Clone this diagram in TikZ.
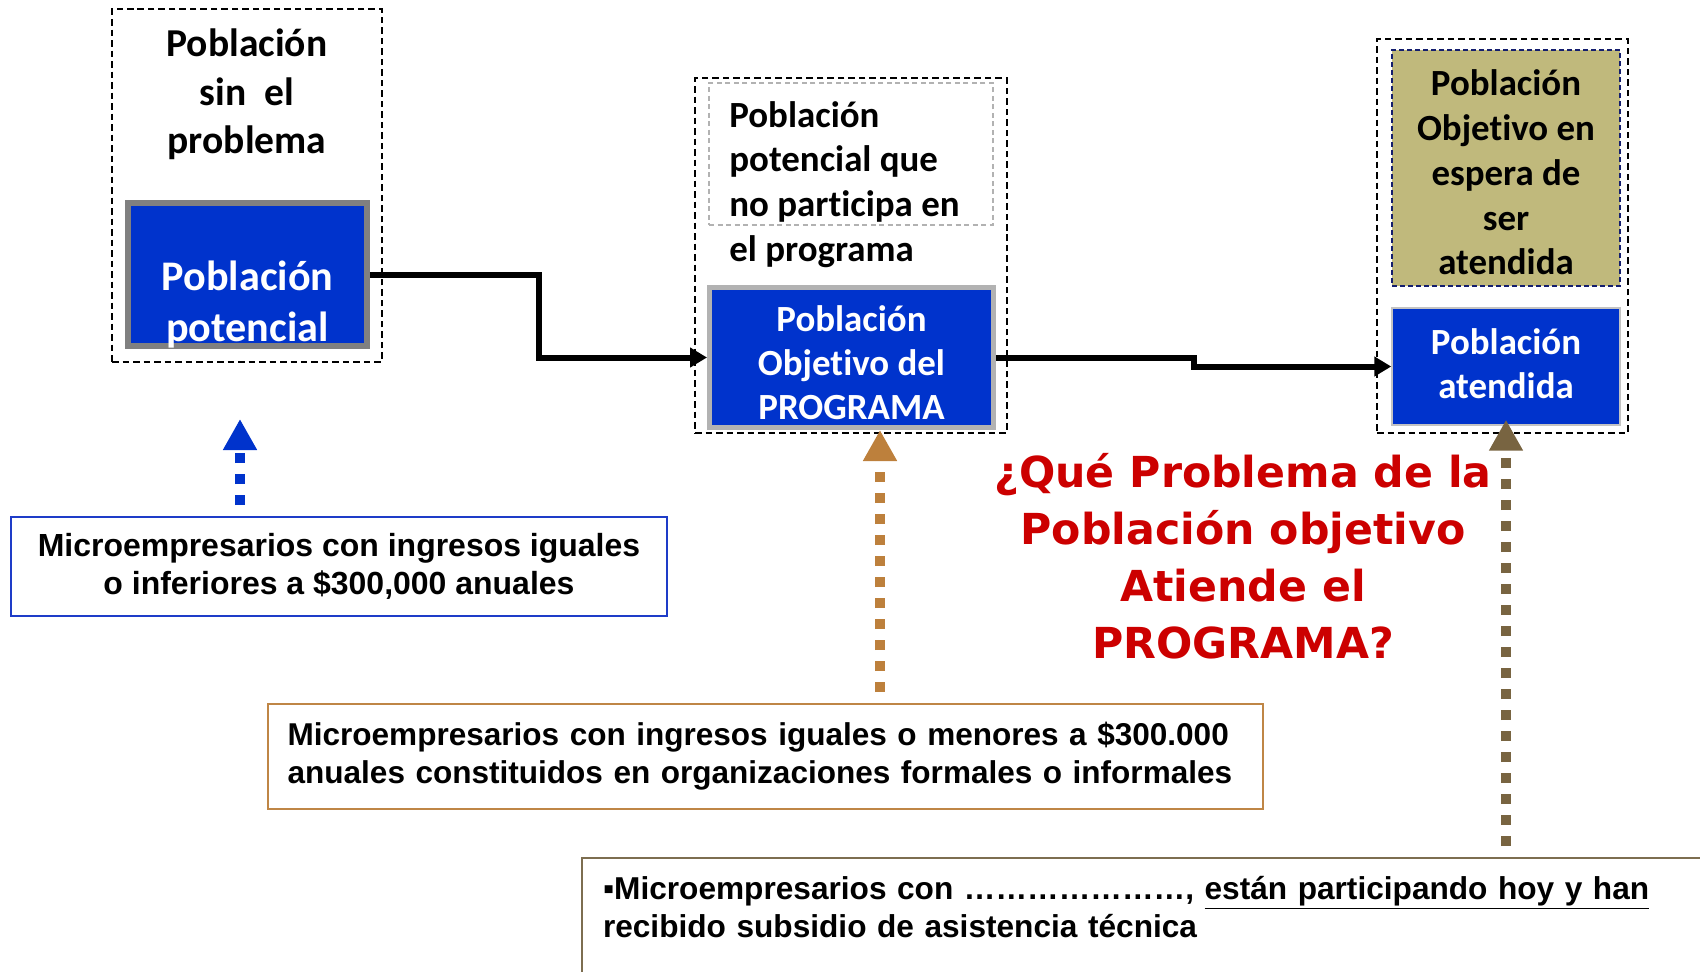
\documentclass[tikz,border=0pt]{standalone}
\usepackage{fontspec}
\setmainfont{Liberation Sans}
\newfontfamily\carl[Ligatures=NoCommon]{Carlito}
\newfontfamily\dvs{DejaVu Sans}
\usepackage{tikz}
\usetikzlibrary{arrows.meta, calc}

\definecolor{azul}{RGB}{0,51,204}
\definecolor{azulborde}{RGB}{30,60,200}
\definecolor{tostado}{RGB}{191,134,70}
\definecolor{tostadoflecha}{RGB}{189,128,60}
\definecolor{oliva}{RGB}{125,110,80}
\definecolor{olivaflecha}{RGB}{120,100,65}
\definecolor{caqui}{RGB}{192,185,124}
\definecolor{marino}{RGB}{20,30,110}
\definecolor{rojo}{RGB}{204,0,0}
\definecolor{grisA}{RGB}{128,128,128}
\definecolor{grisB}{RGB}{178,178,178}
\definecolor{grisC}{RGB}{195,195,195}

\begin{document}
\begin{tikzpicture}[x=0.02cm, y=-0.02cm,
  caja/.style={draw, dash pattern=on 0.13cm off 0.08cm, line width=0.04cm, inner sep=0pt},
  azulbox/.style={fill=azul, text=white, align=center, inner sep=0pt,
    font=\carl\bfseries\fontsize{21}{25}\selectfont},
  azultxt/.style={text=white, align=center, inner sep=0pt},
  tit/.style={align=center, inner sep=0pt, font=\carl\bfseries\fontsize{22.5}{27.5}\selectfont},
  crit/.style={draw, line width=0.04cm, inner sep=0pt, font=\bfseries\fontsize{18.2}{21.5}\selectfont},
  conn/.style={line width=0.12cm, -{Triangle[length=0.34cm,width=0.38cm]}},
  punt/.style={line width=0.2cm, dash pattern=on 0.2cm off 0.22cm,
    -{Triangle[length=0.62cm,width=0.64cm]}, shorten <=0.22cm}]
  \path[use as bounding box, clip] (0,0) rectangle (1700,971);

  % poblacion potencial
  \node[caja, minimum width=5.4cm, minimum height=7.06cm] (cA) at (247,185.5) {};
  \node[tit] (sinp) at (247,94.5) {Población\\sin~~el\\problema};
  \node[azulbox, draw=grisA, line width=0.12cm, minimum width=4.78cm, minimum height=2.86cm,
    label={[azultxt, yshift=-0.6cm, font=\carl\bfseries\fontsize{24}{29.5}\selectfont]center:{Población\\potencial}}]
    (pot) at (247.5,274.5) {};

  % poblacion objetivo
  \node[caja, minimum width=6.24cm, minimum height=7.1cm] (cB) at (851,255.5) {};
  \node[draw=grisB, dash pattern=on 0.1cm off 0.07cm, line width=0.03cm,
    minimum width=5.68cm, minimum height=2.84cm] (nop) at (851,154) {};
  \node[anchor=west, align=left, inner sep=0pt, font=\carl\bfseries\fontsize{21}{25.5}\selectfont]
    (nopt) at (729,184.5) {Población\\potencial que\\no participa en\\el programa};
  \node[azulbox, draw=grisB, line width=0.1cm, minimum width=5.68cm, minimum height=2.8cm,
    label={[azultxt, yshift=-0.11cm, font=\carl\bfseries\fontsize{21}{25}\selectfont]center:{Población\\Objetivo del\\PROGRAMA}}]
    (obj) at (851.5,357.5) {};

  % poblacion atendida
  \node[caja, minimum width=5.02cm, minimum height=7.88cm] (cC) at (1502.5,236) {};
  \node[fill=caqui, draw=marino, dash pattern=on 0.1cm off 0.06cm, line width=0.03cm,
    align=center, inner sep=0pt, minimum width=4.56cm, minimum height=4.72cm,
    label={[yshift=-0.09cm, align=center, inner sep=0pt, font=\carl\bfseries\fontsize{21}{25.5}\selectfont]center:{Población\\Objetivo en\\espera de\\ser\\atendida}}]
    (esp) at (1506,168) {};
  \node[azulbox, draw=grisC, line width=0.03cm, minimum width=4.56cm, minimum height=2.34cm,
    label={[azultxt, yshift=0.065cm, font=\carl\bfseries\fontsize{21}{25}\selectfont]center:{Población\\atendida}}]
    (ate) at (1506,366.5) {};

  \draw[conn] (pot.east) -| ($(pot.east)!.5!(obj.west)$) |- (obj.west);
  \draw[conn] (obj.east) -| ($(obj.east)!.5!(ate.west)$) |- (ate.west);

  % criterios
  \node[crit, draw=azulborde, align=center, minimum width=13.12cm, minimum height=1.98cm]
    (crA) at (339,566.5) {Microempresarios con ingresos iguales\\o inferiores a \$300,000 anuales};
  \node[crit, draw=tostado, align=left, text width=19.12cm, inner xsep=0.39cm, minimum height=2.1cm,
    font=\bfseries\fontsize{17.95}{21.5}\selectfont]
    (crB) at (765.5,756.5) {Microempresarios con ingresos iguales o menores a \$300.000\\anuales constituidos en organizaciones formales o informales};
  \node[crit, draw=oliva, anchor=north west, align=left, text width=22cm, inner xsep=0.42cm,
    inner ysep=0.37cm, text depth=3cm, font=\bfseries\fontsize{18}{21.3}\selectfont]
    (crC) at (581,857) {▪Microempresarios con …………………, \underline{están participando hoy y han}\\recibido subsidio de asistencia técnica};

  \node[align=center, inner sep=0pt, text=rojo, font=\dvs\bfseries\fontsize{24.3}{32.5}\selectfont]
    (preg) at (1243,556) {¿Qué Problema de la\\Población objetivo\\Atiende el\\PROGRAMA?};

  \coordinate (pA) at (240,419);
  \coordinate (pB) at (880,430);
  \draw[punt, azul] (pA |- crA.north) -- (pA);
  \draw[punt, tostadoflecha] (pB |- crB.north) -- (pB);
  \draw[punt, olivaflecha] (ate.south |- crC.north) -- ([yshift=0.12cm]ate.south);
\end{tikzpicture}
\end{document}
